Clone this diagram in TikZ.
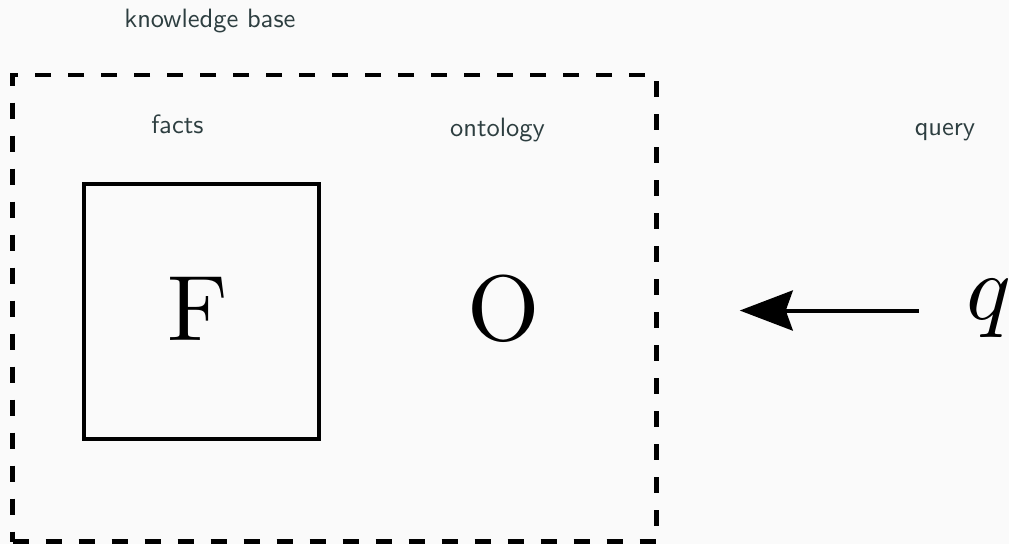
\RequirePackage{fix-cm}
\documentclass[tikz,border=0pt]{standalone}
\usetikzlibrary{arrows.meta}
\font\lblfont=cmss10 at 26.5pt
\font\bigrm=cmr10 at 93pt
\font\bigmi=cmmi10 at 93pt
\definecolor{bg}{RGB}{250,250,250}
\definecolor{lblcol}{RGB}{45,62,64}
\tikzset{
  lbl/.style={text=lblcol, font=\lblfont, anchor=base, inner sep=0pt},
  big/.style={font=\bigrm, anchor=base, inner sep=0pt},
  bigmath/.style={font=\bigmi, anchor=base, inner sep=0pt},
  kbbox/.style={draw, line width=4.5pt, dash pattern=on 16pt off 17pt, inner sep=0pt},
  factbox/.style={draw, line width=4pt, inner sep=0pt},
  arr/.style={line width=4pt, -{Stealth[length=53pt,width=40pt,inset=7pt]}}
}
\begin{document}
\begin{tikzpicture}[x=1pt,y=-1pt]
\fill[bg] (0,0) rectangle (1009,544);
\useasboundingbox (0,0) rectangle (1009,544);
% knowledge base box
\node[kbbox, minimum width=644pt, minimum height=466.5pt] (kb) at (334.5,308.25) {};
\node[lbl] (kblabel) at (210,27) {knowledge base};
% facts
\node[lbl] (factslabel) at (177.5,133) {facts};
\node[factbox, minimum width=234.5pt, minimum height=255pt] (fbox) at (201.25,311.5) {};
\node[big] (F) at (198,340) {F};
% ontology
\node[lbl] (ontlabel) at (497.5,136) {ontology};
\node[big] (O) at (503.5,340) {O};
% query
\node[lbl] (querylabel) at (945,135) {query};
\node[bigmath] (q) at (987.5,319) {q};
% arrow
\draw[arr, shorten <=48pt, shorten >=81pt] ([yshift=-2.5pt]q.west) -- ([yshift=-2.5pt]q.west -| kb.east);
\end{tikzpicture}
\end{document}
